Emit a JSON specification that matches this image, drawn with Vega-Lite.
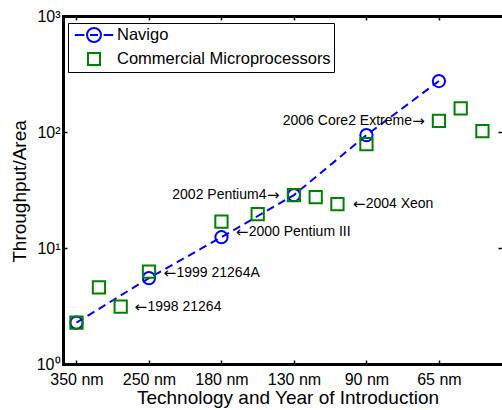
{
  "$schema": "https://vega.github.io/schema/vega-lite/v6.json",
  "width": 439,
  "height": 348,
  "autosize": "none",
  "padding": {"left": 63, "top": 16, "right": 0, "bottom": 46},
  "background": "white",
  "config": {
    "view": {"stroke": null},
    "font": "Liberation Sans",
    "axis": {
      "domainColor": "black",
      "domainWidth": 3,
      "domainCap": "square",
      "tickColor": "black",
      "tickWidth": 1.5,
      "tickSize": -4,
      "labelFont": "Liberation Sans",
      "labelFontSize": 16,
      "labelColor": "black",
      "titleFont": "Liberation Sans",
      "titleFontSize": 19,
      "titleFontWeight": "normal",
      "titleColor": "black",
      "grid": false,
      "labelOverlap": false,
      "labelFlush": false
    }
  },
  "datasets": {
    "pts": [
      {"series": "Navigo", "x": 1, "y": 2.27},
      {"series": "Navigo", "x": 2, "y": 5.5},
      {"series": "Navigo", "x": 3, "y": 12.4},
      {"series": "Navigo", "x": 4, "y": 28.6},
      {"series": "Navigo", "x": 5, "y": 94},
      {"series": "Navigo", "x": 6, "y": 275},
      {"series": "Commercial Microprocessors", "x": 1, "y": 2.27},
      {"series": "Commercial Microprocessors", "x": 1.31, "y": 4.58},
      {"series": "Commercial Microprocessors", "x": 1.61, "y": 3.12},
      {"series": "Commercial Microprocessors", "x": 2, "y": 6.25},
      {"series": "Commercial Microprocessors", "x": 3, "y": 16.9},
      {"series": "Commercial Microprocessors", "x": 3.5, "y": 19.6},
      {"series": "Commercial Microprocessors", "x": 4, "y": 28.6},
      {"series": "Commercial Microprocessors", "x": 4.3, "y": 27.4},
      {"series": "Commercial Microprocessors", "x": 4.6, "y": 23.9},
      {"series": "Commercial Microprocessors", "x": 5, "y": 78.8},
      {"series": "Commercial Microprocessors", "x": 6, "y": 124.5},
      {"series": "Commercial Microprocessors", "x": 6.3, "y": 160},
      {"series": "Commercial Microprocessors", "x": 6.6, "y": 102}
    ],
    "labelsLeft": [
      {"label": "2004 Xeon", "x": 4.81, "y": 23.9},
      {"label": "2000 Pentium III", "x": 3.196, "y": 13.7},
      {"label": "1999 21264A", "x": 2.2, "y": 6.09},
      {"label": "1998 21264", "x": 1.8, "y": 3.1}
    ],
    "labelsRight": [
      {"label": "2006 Core2 Extreme", "x": 5.807, "y": 124.4},
      {"label": "2002 Pentium4", "x": 3.8, "y": 28.6}
    ]
  },
  "layer": [
    {
      "data": {"name": "pts"},
      "transform": [{"filter": "datum.series === 'Navigo'"}],
      "mark": {"type": "line", "color": "#0000ff", "strokeWidth": 2, "strokeDash": [8, 5]},
      "encoding": {
        "x": {
          "field": "x", "type": "quantitative",
          "scale": {"domain": [0.814, 6.87], "nice": false, "zero": false},
          "axis": {
            "orient": "bottom",
            "values": [1, 2, 3, 4, 5, 6],
            "labelExpr": "['','350 nm','250 nm','180 nm','130 nm','90 nm','65 nm'][datum.value]",
            "labelPadding": 11.5,
            "title": "Technology and Year of Introduction",
            "titleX": 224.5,
            "titleY": 24,
            "titleBaseline": "top",
            "titleAlign": "center"
          }
        },
        "y": {
          "field": "y", "type": "quantitative",
          "scale": {"type": "log", "domain": [1, 1000], "nice": false},
          "axis": {
            "orient": "left",
            "values": [1, 10, 100, 1000],
            "labelExpr": "datum.value == 1 ? '10⁰' : datum.value == 10 ? '10¹' : datum.value == 100 ? '10²' : '10³'",
            "labelPadding": 7,
            "title": "Throughput/Area",
            "titleX": -38,
            "titleY": 175,
            "titleAngle": 270,
            "titleBaseline": "alphabetic",
            "titleAlign": "center"
          }
        }
      }
    },
    {
      "data": {"name": "pts"},
      "transform": [{"filter": "datum.series === 'Navigo'"}],
      "mark": {"type": "point", "shape": "circle", "filled": false, "strokeWidth": 2, "size": 150, "opacity": 1, "color": "#0000ff"},
      "encoding": {
        "x": {
          "field": "x", "type": "quantitative",
          "axis": {"orient": "top", "values": [1, 2, 3, 4, 5, 6], "labels": false, "title": null}
        },
        "y": {
          "field": "y", "type": "quantitative",
          "axis": {"orient": "right", "values": [1, 10, 100, 1000], "labels": false, "domain": false, "title": null}
        }
      }
    },
    {
      "data": {"name": "pts"},
      "transform": [{"filter": "datum.series !== 'Navigo'"}],
      "mark": {"type": "point", "shape": "square", "filled": false, "strokeWidth": 2, "size": 150, "opacity": 1, "color": "#008000"},
      "encoding": {
        "x": {"field": "x", "type": "quantitative", "axis": null},
        "y": {"field": "y", "type": "quantitative", "axis": null}
      }
    },
    {
      "data": {"name": "pts"},
      "transform": [{"filter": "false"}],
      "mark": {"type": "point", "filled": false, "strokeWidth": 2, "size": 256, "opacity": 1},
      "encoding": {
        "color": {
          "field": "series", "type": "nominal",
          "scale": {"domain": ["Navigo", "Commercial Microprocessors"], "range": ["#0000ff", "#008000"]},
          "legend": {
            "orient": "none", "legendX": 5, "legendY": 7, "title": null,
            "fillColor": "white", "strokeColor": "black", "padding": 3,
            "labelFont": "Liberation Sans", "labelFontSize": 16.5, "labelColor": "black",
            "labelLimit": 0, "labelOffset": 14, "symbolOffset": 14, "rowPadding": 3,
            "symbolStrokeWidth": 2, "symbolSize": 256,
            "encode": {"legend": {"strokeWidth": {"value": 2.5}}}
          }
        },
        "shape": {
          "field": "series", "type": "nominal",
          "scale": {"domain": ["Navigo", "Commercial Microprocessors"], "range": ["M-2.4,0H-1.2M1.2,0H2.4M0.875,0A0.875,0.875,0,1,1,-0.875,0A0.875,0.875,0,1,1,0.875,0M-0.5,0H0.5", "M-0.75,-0.75H0.75V0.75H-0.75Z"]},
          "legend": {
            "orient": "none", "legendX": 5, "legendY": 7, "title": null,
            "fillColor": "white", "strokeColor": "black", "padding": 3,
            "labelFont": "Liberation Sans", "labelFontSize": 16.5, "labelColor": "black",
            "labelLimit": 0, "labelOffset": 14, "symbolOffset": 14, "rowPadding": 3,
            "symbolStrokeWidth": 2, "symbolSize": 256,
            "encode": {"legend": {"strokeWidth": {"value": 2.5}}}
          }
        }
      }
    },
    {
      "data": {"name": "labelsLeft"},
      "mark": {"type": "text", "align": "left", "baseline": "middle", "font": "Liberation Sans", "fontSize": 14, "color": "black", "dx": 13},
      "encoding": {
        "x": {"field": "x", "type": "quantitative", "axis": null},
        "y": {"field": "y", "type": "quantitative", "axis": null},
        "text": {"field": "label"}
      }
    },
    {
      "data": {"name": "labelsLeft"},
      "mark": {"type": "text", "align": "left", "baseline": "middle", "font": "DejaVu Sans", "fontSize": 15, "color": "black"},
      "encoding": {
        "x": {"field": "x", "type": "quantitative", "axis": null},
        "y": {"field": "y", "type": "quantitative", "axis": null},
        "text": {"value": "←"}
      }
    },
    {
      "data": {"name": "labelsRight"},
      "mark": {"type": "text", "align": "right", "baseline": "middle", "font": "Liberation Sans", "fontSize": 14, "color": "black", "dx": -13},
      "encoding": {
        "x": {"field": "x", "type": "quantitative", "axis": null},
        "y": {"field": "y", "type": "quantitative", "axis": null},
        "text": {"field": "label"}
      }
    },
    {
      "data": {"name": "labelsRight"},
      "mark": {"type": "text", "align": "right", "baseline": "middle", "font": "DejaVu Sans", "fontSize": 15, "color": "black"},
      "encoding": {
        "x": {"field": "x", "type": "quantitative", "axis": null},
        "y": {"field": "y", "type": "quantitative", "axis": null},
        "text": {"value": "→"}
      }
    }
  ],
  "resolve": {"axis": {"x": "independent", "y": "independent"}}
}
